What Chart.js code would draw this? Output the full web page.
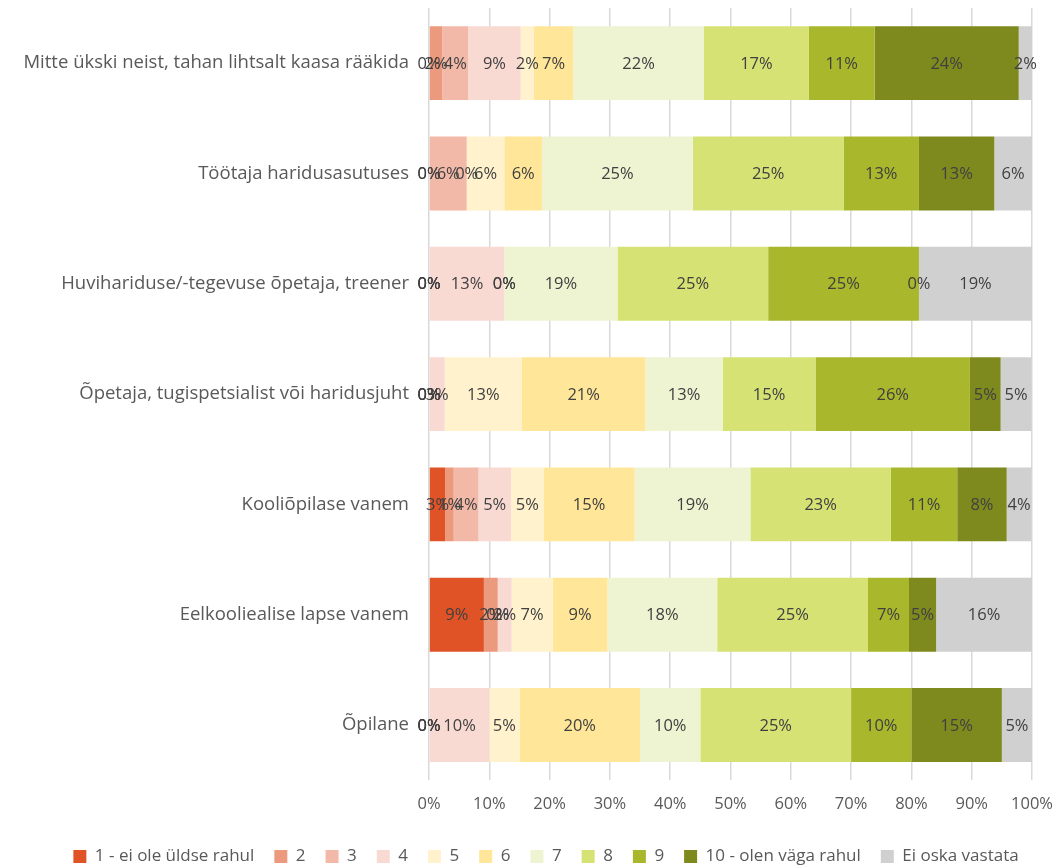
<!DOCTYPE html>
<html lang="et">
<head>
    <meta charset="UTF-8">
    <title>Rahulolu vastajagruppide lõikes</title>
    <script src="https://cdn.jsdelivr.net/npm/chart.js"></script>
    <style>
        body { margin: 0; background: #fff; }
        canvas { display: block; }
    </style>
</head>
<body>
    <canvas id="chart" width="1061" height="867"></canvas>

    <script>
        // vastajagrupid ülevalt alla
        const groups = [
            'Mitte ükski neist, tahan lihtsalt kaasa rääkida',
            'Töötaja haridusasutuses',
            'Huvihariduse/-tegevuse õpetaja, treener',
            'Õpetaja, tugispetsialist või haridusjuht',
            'Kooliõpilase vanem',
            'Eelkooliealise lapse vanem',
            'Õpilane'
        ];

        const answers = ['1 - ei ole üldse rahul', '2', '3', '4', '5', '6', '7', '8', '9', '10 - olen väga rahul', 'Ei oska vastata'];
        const answerColors = ['#E05327', '#EC9A7E', '#F2B9A8', '#F9DAD3', '#FFF2CC', '#FFE699', '#EEF3D1', '#D6E274', '#A8B72C', '#7E8A1E', '#D0D0D0'];

        // osakaalud protsentides, iga vastusevariant eraldi (grupid samas järjekorras)
        const score1  = [0,    0,    0,     0,    2.7,  9.1,  0];
        const score2  = [2.2,  0,    0,     0,    1.4,  2.3,  0];
        const score3  = [4.3,  6.25, 0,     0,    4.1,  0,    0];
        const score4  = [8.7,  0,    12.5,  2.6,  5.4,  2.3,  10];
        const score5  = [2.2,  6.25, 0,     12.8, 5.4,  6.8,  5];
        const score6  = [6.5,  6.25, 0,     20.5, 15.1, 9.1,  20];
        const score7  = [21.7, 25,   18.75, 12.8, 19.2, 18.2, 10];
        const score8  = [17.4, 25,   25,    15.4, 23.3, 25.0, 25];
        const score9  = [10.9, 12.5, 25,    25.6, 11.0, 6.8,  10];
        const score10 = [23.9, 12.5, 0,     5.1,  8.2,  4.5,  15];
        const noAnswer = [2.2, 6.25, 18.75, 5.1,  4.1,  15.9, 5];

        const series = [score1, score2, score3, score4, score5, score6, score7, score8, score9, score10, noAnswer];
        const xTicks = [0, 10, 20, 30, 40, 50, 60, 70, 80, 90, 100];

        const FONT = '"Open Sans", Lato, sans-serif';

        // protsendisildid iga lõigu keskele
        const segmentLabels = {
            id: 'segmentLabels',
            afterDatasetsDraw(chart) {
                const ctx = chart.ctx;
                ctx.save();
                ctx.font = '16.5px ' + FONT;
                ctx.fillStyle = '#404040';
                ctx.textAlign = 'center';
                ctx.textBaseline = 'middle';
                chart.data.datasets.forEach((ds, i) => {
                    chart.getDatasetMeta(i).data.forEach((bar, j) => {
                        const cx = (bar.x + bar.base) / 2;
                        ctx.fillText(Math.round(ds.data[j]) + '%', cx, bar.y + 1);
                    });
                });
                ctx.restore();
            }
        };

        // legend veidi paremale, et jääks joonise keskele
        const legendShift = {
            id: 'legendShift',
            afterLayout(chart) {
                chart.legend.left += 30;
                chart.legend.right += 30;
            }
        };

        new Chart(document.getElementById('chart'), {
            type: 'bar',
            data: {
                labels: groups,
                datasets: answers.map((name, i) => ({
                    label: name,
                    data: series[i],
                    backgroundColor: answerColors[i],
                    borderWidth: 0,
                    categoryPercentage: 1,
                    barPercentage: 0.67
                }))
            },
            options: {
                indexAxis: 'y',
                responsive: false,
                animation: false,
                events: [],
                layout: { padding: { top: 8, right: 29, bottom: -8, left: 0 } },
                scales: {
                    x: {
                        stacked: true,
                        min: 0,
                        max: 100,
                        afterBuildTicks: scale => { scale.ticks = xTicks.map(v => ({ value: v })); },
                        afterFit: scale => { scale.paddingLeft = 0; scale.paddingRight = 0; },
                        ticks: {
                            callback: v => v + '%',
                            color: '#595959',
                            font: { family: FONT, size: 16.5 },
                            padding: 14,
                            maxRotation: 0
                        },
                        grid: { color: '#D9D9D9', lineWidth: 1.5, drawTicks: false },
                        border: { display: false }
                    },
                    y: {
                        stacked: true,
                        afterFit: scale => {
                            scale.width = 429;
                            scale.paddingTop = 0;
                            scale.paddingBottom = 0;
                        },
                        ticks: {
                            color: '#595959',
                            font: { family: FONT, size: 18.5 },
                            padding: 12
                        },
                        grid: { display: false },
                        border: { display: false }
                    }
                },
                plugins: {
                    legend: {
                        position: 'bottom',
                        labels: {
                            color: '#595959',
                            font: { family: FONT, size: 17 },
                            boxWidth: 13,
                            boxHeight: 13,
                            padding: 20
                        }
                    },
                    tooltip: { enabled: false }
                }
            },
            plugins: [segmentLabels, legendShift]
        });
    </script>
</body>
</html>
